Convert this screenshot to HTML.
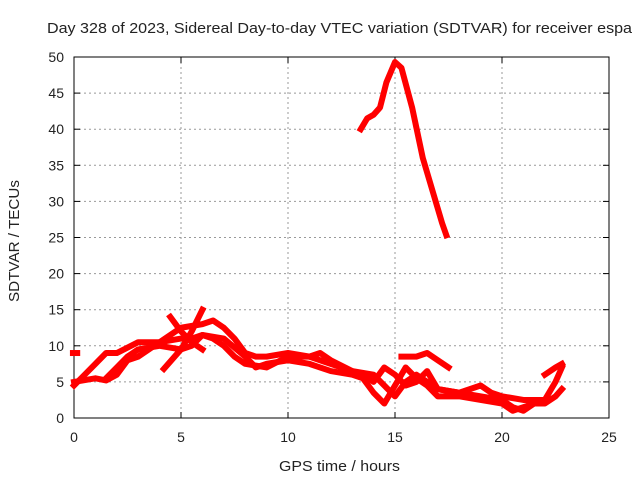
<!DOCTYPE html>
<html><head><meta charset="utf-8"><style>
body{margin:0;background:#fff}
svg text{font-family:"Liberation Sans",sans-serif;font-size:14px;fill:#222}
</style></head><body>
<svg width="640" height="480" xmlns="http://www.w3.org/2000/svg">
<g id="grid"></g>
<g id="axes"></g>
<g id="series"></g>
<text x="47" y="33" textLength="585" lengthAdjust="spacingAndGlyphs" style="font-size:15px">Day 328 of 2023, Sidereal Day-to-day VTEC variation (SDTVAR) for receiver espa</text>
<text x="279" y="471" textLength="121" lengthAdjust="spacingAndGlyphs" style="font-size:15px">GPS time / hours</text>
<text transform="translate(19,302) rotate(-90)" textLength="122" lengthAdjust="spacingAndGlyphs" style="font-size:15px">SDTVAR / TECUs</text>
</svg>
<script>
const xTicks=[0,5,10,15,20,25];
const yTicks=[0,5,10,15,20,25,30,35,40,45,50];
const trackPeak=[[13.4,40],[13.7,41.5],[14,42],[14.3,43],[14.6,46.5],[15,49.3],[15.3,48.5],[15.8,43],[16.3,36],[16.8,31],[17.2,27],[17.4,25.3]];
const track1=[[0,5],[1,5.5],[1.5,5.2],[2,6],[2.5,8],[3,8.5],[3.5,9.5],[4,10.5],[5,11],[5.5,11],[6,11.5],[6.5,11],[7,10],[7.5,8.5],[8,7.5],[9,7],[10,8.5],[11,8.5],[12,7.5],[13,6.5],[14,6],[14.5,4.5],[15,3],[15.5,5],[16,6],[16.5,5],[17,4],[18,3.5],[19,3],[20,2.5],[20.5,1.5],[21,1],[21.5,2],[22,2],[22.5,3],[22.8,4]];
const track2=[[0,4.5],[0.5,6],[1,7.5],[1.5,9],[2,9],[3,10.5],[4,10.5],[5,12.5],[6,13],[6.5,13.5],[7,12.5],[7.5,11],[8,9],[8.5,8.5],[9,8.5],[10,9],[11,8.5],[11.5,9],[12,8],[13,6.5],[13.5,6],[14,5],[14.5,7],[15,6],[15.5,4.5],[16,5],[16.5,6.5],[17,4],[18,3.5],[19,4.5],[19.5,3.5],[20,3],[21,2.5],[22,2.5],[22.5,5],[22.8,7]];
const track3=[[1.5,5.5],[2,7],[2.5,8.5],[3,9.5],[4,10],[5,9.5],[5.5,10],[6,11.5],[7,11],[8,8.5],[8.5,7],[9,7.5],[10,8],[11,7.5],[12,6.5],[13,6],[13.5,5.5],[14,3.5],[14.5,2],[15,4.5],[15.5,7],[16,5.5],[16.5,4.5],[17,3],[18,3],[19,2.5],[20,2],[20.5,1],[21,1.5],[22,2.5]];
const track4=[[4.2,6.8],[5,9.5],[5.5,12],[6,15]];
const track5=[[4.5,14],[5,12],[5.5,10.5],[6,9.5]];
const track6=[[15.3,8.5],[16,8.5],[16.5,9],[17,8],[17.5,7]];
const track7=[[22,6],[22.5,7],[22.8,7.5]];
const track8=[[-0.05,9],[0.15,9]];
const tracks=[trackPeak,track1,track2,track3,track4,track5,track6,track7,track8];
const X=v=>74+v*(609-74)/25, Y=v=>418-v*(418-57)/50;
const NS="http://www.w3.org/2000/svg";
const mk=(t,a,p)=>{const e=document.createElementNS(NS,t);for(const k in a)e.setAttribute(k,a[k]);p.appendChild(e);return e;};
const grid=document.getElementById('grid'),axes=document.getElementById('axes'),ser=document.getElementById('series');
xTicks.forEach(t=>{
 if(t>0&&t<25){const g=mk('line',{x1:X(t),x2:X(t),y1:57,y2:418,stroke:'#999','stroke-dasharray':'2,3'},grid);
 
 }
 mk('line',{x1:X(t),x2:X(t),y1:418,y2:412,stroke:'#000'},axes);
 mk('line',{x1:X(t),x2:X(t),y1:57,y2:63,stroke:'#000'},axes);
 const l=mk('text',{x:X(t),y:442,'text-anchor':'middle'},axes);l.textContent=t;
 
 
});
yTicks.forEach(t=>{
 if(t>0&&t<50){const g=mk('line',{x1:74,x2:609,y1:Y(t),y2:Y(t),stroke:'#999','stroke-dasharray':'2,3'},grid);
 
 }
 mk('line',{x1:74,x2:80,y1:Y(t),y2:Y(t),stroke:'#000'},axes);
 mk('line',{x1:603,x2:609,y1:Y(t),y2:Y(t),stroke:'#000'},axes);
 const l=mk('text',{x:64,y:Y(t)+5,'text-anchor':'end'},axes);l.textContent=t;
 
 
});
const fr=mk('rect',{x:74,y:57,width:535,height:361,fill:'none',stroke:'#000'},axes);


tracks.forEach(tr=>{
 const p=mk('polyline',{points:tr.map(d=>X(d[0])+','+Y(d[1])).join(' '),fill:'none',stroke:'#f00','stroke-width':6,'stroke-linejoin':'round','stroke-linecap':'square'},ser);
 
 
});
</script>
</body></html>
